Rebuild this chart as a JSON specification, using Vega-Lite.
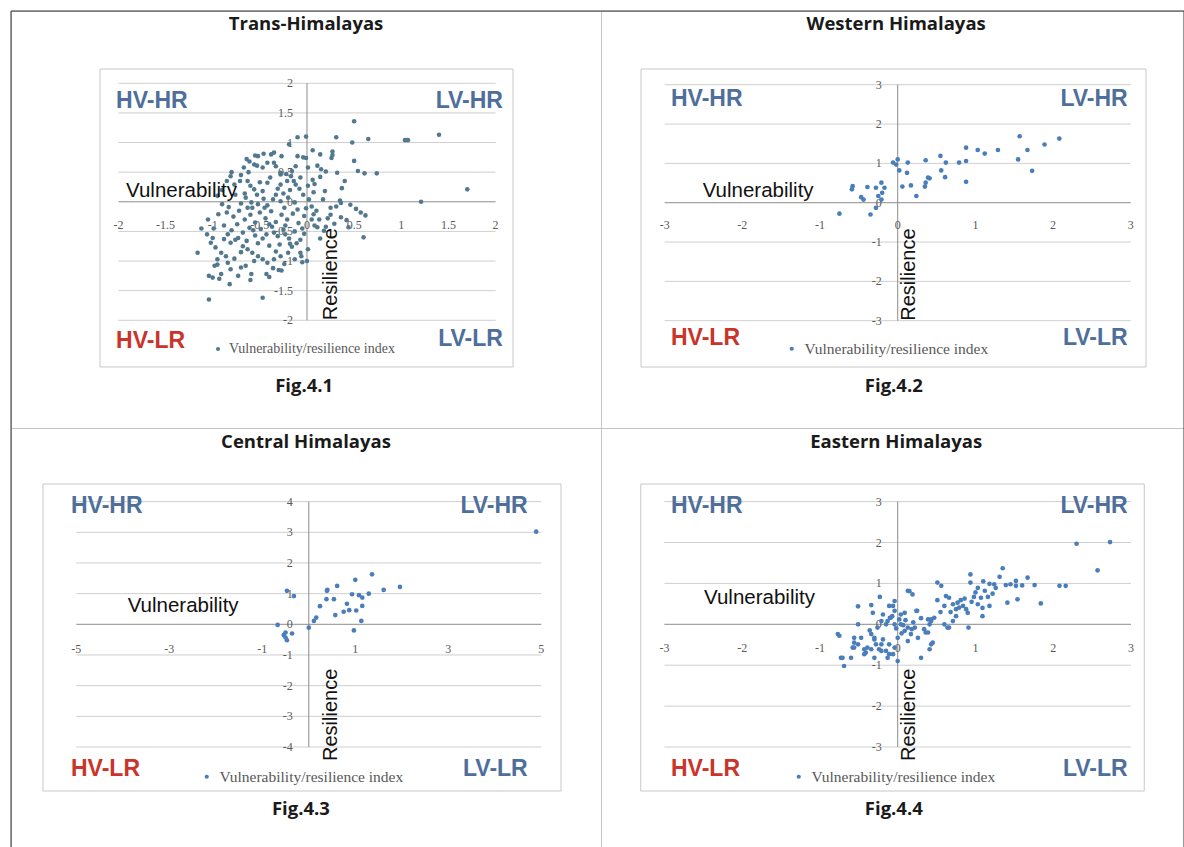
{
"$schema": "https://vega.github.io/schema/vega-lite/v6.json",
"padding": {"left": 10, "top": 10, "right": 0, "bottom": 0},
"background": "white",
"columns": 2,
"spacing": 0,
"bounds": "flush",
"resolve": {"scale": {"color": "independent"}, "legend": {"color": "independent"}},
"config": {
  "view": {"stroke": "#c4c4c4", "strokeWidth": 1},
  "text": {"font": "Liberation Sans"}
},
"concat": [
{
  "width": 590, "height": 417,
  "layer": [
    {"data": {"values": [{}]}, "mark": {"type": "rule", "color": "#333333"},
     "encoding": {"y": {"datum": 3.220, "scale": {"domain": [-3.818, 3.220], "nice": false, "zero": false}, "axis": null},
                  "x": {"datum": -3.139, "scale": {"domain": [-3.139, 3.118], "nice": false, "zero": false}, "axis": null}, "x2": {"datum": 3.118}}},
    {"data": {"values": [{}]}, "mark": {"type": "rule", "color": "#333333"},
     "encoding": {"x": {"datum": -3.139, "scale": {"domain": [-3.139, 3.118], "nice": false, "zero": false}, "axis": null},
                  "y": {"datum": -3.818, "scale": {"domain": [-3.818, 3.220], "nice": false, "zero": false}, "axis": null}, "y2": {"datum": 3.220}}},
    {"data": {"values": [{}]}, "mark": {"type": "rect", "fillOpacity": 0, "stroke": "#c8c8c8", "strokeWidth": 1},
     "encoding": {"x": {"datum": -2.195, "scale": {"domain": [-3.139, 3.118], "nice": false, "zero": false}, "axis": null}, "x2": {"datum": 2.185},
                  "y": {"datum": 2.241, "scale": {"domain": [-3.818, 3.220], "nice": false, "zero": false}, "axis": null}, "y2": {"datum": -2.788}}},
    {"data": {"values": [{"g": -2}, {"g": -1.5}, {"g": -1}, {"g": -0.5}, {"g": 0.5}, {"g": 1}, {"g": 1.5}, {"g": 2}]},
     "mark": {"type": "rule", "color": "#cfcfcf"},
     "encoding": {"y": {"field": "g", "type": "quantitative", "scale": {"domain": [-3.818, 3.220], "nice": false, "zero": false}, "axis": null},
                  "x": {"datum": -2, "scale": {"domain": [-3.139, 3.118], "nice": false, "zero": false}, "axis": null}, "x2": {"datum": 2}}},
    {"data": {"values": [{}]}, "mark": {"type": "rule", "color": "#8c8c8c"},
     "encoding": {"y": {"datum": 0, "scale": {"domain": [-3.818, 3.220], "nice": false, "zero": false}, "axis": null},
                  "x": {"datum": -2, "scale": {"domain": [-3.139, 3.118], "nice": false, "zero": false}, "axis": null}, "x2": {"datum": 2}}},
    {"data": {"values": [{}]}, "mark": {"type": "rule", "color": "#8c8c8c"},
     "encoding": {"x": {"datum": 0, "scale": {"domain": [-3.139, 3.118], "nice": false, "zero": false}, "axis": null},
                  "y": {"datum": -2, "scale": {"domain": [-3.818, 3.220], "nice": false, "zero": false}, "axis": null}, "y2": {"datum": 2}}},
    {"data": {"values": [{"v": -2}, {"v": -1.5}, {"v": -1}, {"v": -0.5}, {"v": 0}, {"v": 0.5}, {"v": 1}, {"v": 1.5}, {"v": 2}]},
     "mark": {"type": "text", "font": "Liberation Serif", "fontSize": 12, "color": "#595959", "align": "center", "baseline": "middle", "dy": 23.5},
     "encoding": {"x": {"field": "v", "type": "quantitative", "scale": {"domain": [-3.139, 3.118], "nice": false, "zero": false}, "axis": null},
                  "y": {"datum": 0, "scale": {"domain": [-3.818, 3.220], "nice": false, "zero": false}, "axis": null},
                  "text": {"field": "v", "type": "nominal"}}},
    {"data": {"values": [{"v": -2}, {"v": -1.5}, {"v": -1}, {"v": -0.5}, {"v": 0}, {"v": 0.5}, {"v": 1}, {"v": 1.5}, {"v": 2}]},
     "mark": {"type": "text", "font": "Liberation Serif", "fontSize": 12, "color": "#595959", "align": "right", "baseline": "middle", "dx": -14},
     "encoding": {"y": {"field": "v", "type": "quantitative", "scale": {"domain": [-3.818, 3.220], "nice": false, "zero": false}, "axis": null},
                  "x": {"datum": 0, "scale": {"domain": [-3.139, 3.118], "nice": false, "zero": false}, "axis": null},
                  "text": {"field": "v", "type": "nominal"}}},
    {"data": {"values": [
      {"x":0.50,"y":1.36},{"x":-0.01,"y":1.10},{"x":0.31,"y":1.09},{"x":0.48,"y":1.00},{"x":0.65,"y":1.06},{"x":1.04,"y":1.04},{"x":1.07,"y":1.04},{"x":1.40,"y":1.13},{"x":1.70,"y":0.21},{"x":1.21,"y":0.00},
      {"x":0.06,"y":0.87},{"x":0.14,"y":0.80},{"x":0.27,"y":0.85},{"x":0.27,"y":0.79},{"x":0.26,"y":0.74},{"x":0.50,"y":0.69},{"x":-0.04,"y":0.75},{"x":0.11,"y":0.61},{"x":0.15,"y":0.55},{"x":0.20,"y":0.51},
      {"x":0.32,"y":0.49},{"x":0.54,"y":0.52},{"x":0.61,"y":0.48},{"x":0.74,"y":0.48},{"x":0.14,"y":0.42},{"x":0.06,"y":0.37},{"x":0.08,"y":0.30},{"x":0.07,"y":0.16},{"x":0.40,"y":0.35},{"x":0.37,"y":0.23},
      {"x":0.19,"y":0.18},{"x":0.17,"y":0.04},{"x":0.35,"y":0.02},{"x":0.36,"y":-0.02},{"x":0.57,"y":-0.18},{"x":0.62,"y":-0.23},{"x":0.60,"y":-0.60},{"x":0.44,"y":-0.43},{"x":0.18,"y":-0.49},{"x":0.14,"y":-0.62},
      {"x":0.10,"y":-0.15},{"x":0.22,"y":-0.28},{"x":0.29,"y":-0.37},{"x":0.36,"y":-0.26},{"x":0.42,"y":-0.31},{"x":-0.03,"y":-0.54},{"x":-0.07,"y":-0.86},{"x":0.00,"y":-1.00},{"x":0.25,"y":-0.10},{"x":0.31,"y":-0.08},
      {"x":0.05,"y":-0.08},{"x":0.13,"y":-0.30},{"x":0.46,"y":-0.05},{"x":0.52,"y":-0.12},{"x":-0.19,"y":0.97},{"x":-0.10,"y":1.09},{"x":-0.52,"y":0.77},{"x":-0.38,"y":0.80},{"x":-0.61,"y":0.68},{"x":-0.56,"y":0.63},
      {"x":-0.47,"y":0.58},{"x":-0.35,"y":0.66},{"x":-0.28,"y":0.49},{"x":-0.22,"y":0.47},{"x":-0.17,"y":0.43},{"x":-0.10,"y":0.77},{"x":-0.12,"y":0.60},{"x":-0.01,"y":0.74},{"x":0.01,"y":0.58},{"x":-0.28,"y":0.29},
      {"x":-0.12,"y":0.29},{"x":0.01,"y":0.27},{"x":-0.81,"y":0.43},{"x":-0.77,"y":0.29},{"x":-0.63,"y":0.35},{"x":-0.56,"y":0.21},{"x":-0.47,"y":0.18},{"x":-0.42,"y":0.32},{"x":-0.36,"y":0.04},{"x":-0.28,"y":0.01},
      {"x":-0.20,"y":0.07},{"x":-0.13,"y":-0.01},{"x":-0.04,"y":0.12},{"x":0.02,"y":0.04},{"x":-0.65,"y":0.07},{"x":-0.59,"y":-0.01},{"x":-0.52,"y":-0.04},{"x":-0.63,"y":-0.10},{"x":-0.45,"y":-0.10},{"x":-0.24,"y":-0.10},
      {"x":-0.10,"y":-0.13},{"x":-0.01,"y":-0.11},{"x":-0.64,"y":0.72},{"x":-0.55,"y":0.78},{"x":-0.46,"y":0.81},{"x":-0.35,"y":0.83},{"x":-0.27,"y":0.77},{"x":-0.42,"y":0.66},{"x":-0.53,"y":0.61},{"x":-0.67,"y":0.58},
      {"x":-0.80,"y":0.50},{"x":-0.85,"y":0.35},{"x":-0.71,"y":0.35},{"x":-0.60,"y":0.27},{"x":-0.50,"y":0.33},{"x":-0.39,"y":0.41},{"x":-0.28,"y":0.46},{"x":-0.21,"y":0.35},{"x":-0.14,"y":0.35},{"x":-0.07,"y":0.41},
      {"x":-0.90,"y":-0.04},{"x":-0.83,"y":-0.09},{"x":-0.94,"y":-0.21},{"x":-1.05,"y":-0.30},{"x":-1.12,"y":-0.45},{"x":-1.00,"y":-0.61},{"x":-1.02,"y":-0.69},{"x":-0.97,"y":-0.77},{"x":-0.91,"y":-0.86},{"x":-0.95,"y":-0.97},
      {"x":-1.16,"y":-0.86},{"x":-1.04,"y":-1.25},{"x":-1.00,"y":-1.28},{"x":-0.91,"y":-1.22},{"x":-0.93,"y":-1.30},{"x":-0.82,"y":-1.39},{"x":-0.73,"y":-1.25},{"x":-0.59,"y":-1.22},{"x":-1.04,"y":-1.65},{"x":-0.47,"y":-1.62},
      {"x":-0.43,"y":-1.22},{"x":-0.40,"y":-1.27},{"x":-0.98,"y":-1.08},{"x":-0.95,"y":-1.06},{"x":-0.84,"y":-1.03},{"x":-0.81,"y":-1.14},{"x":-0.70,"y":-1.11},{"x":-0.65,"y":-1.08},{"x":-0.88,"y":-0.63},{"x":-0.81,"y":-0.69},
      {"x":-0.73,"y":-0.61},{"x":-0.68,"y":-0.75},{"x":-0.63,"y":-0.80},{"x":-0.58,"y":-0.86},{"x":-0.52,"y":-0.92},{"x":-0.47,"y":-0.97},{"x":-0.42,"y":-1.03},{"x":-0.35,"y":-0.97},{"x":-0.28,"y":-0.92},{"x":-0.20,"y":-0.86},
      {"x":-0.13,"y":-0.97},{"x":-0.06,"y":-0.92},{"x":0.01,"y":-0.80},{"x":-0.85,"y":-0.18},{"x":-0.78,"y":-0.25},{"x":-0.72,"y":-0.15},{"x":-0.66,"y":-0.30},{"x":-0.60,"y":-0.22},{"x":-0.55,"y":-0.35},{"x":-0.50,"y":-0.18},
      {"x":-0.44,"y":-0.28},{"x":-0.38,"y":-0.16},{"x":-0.33,"y":-0.34},{"x":-0.27,"y":-0.22},{"x":-0.21,"y":-0.30},{"x":-0.15,"y":-0.20},{"x":-0.09,"y":-0.36},{"x":-0.03,"y":-0.24},{"x":-0.88,"y":-0.40},{"x":-0.80,"y":-0.48},
      {"x":-0.74,"y":-0.38},{"x":-0.68,"y":-0.52},{"x":-0.61,"y":-0.44},{"x":-0.55,"y":-0.57},{"x":-0.49,"y":-0.46},{"x":-0.43,"y":-0.55},{"x":-0.37,"y":-0.42},{"x":-0.31,"y":-0.58},{"x":-0.25,"y":-0.47},{"x":-0.19,"y":-0.62},
      {"x":-0.13,"y":-0.50},{"x":-0.07,"y":-0.64},{"x":-0.84,"y":-0.55},{"x":-0.76,"y":-0.64},{"x":-0.64,"y":-0.66},{"x":-0.52,"y":-0.70},{"x":-0.40,"y":-0.74},{"x":-0.29,"y":-0.72},{"x":-0.16,"y":-0.76},{"x":-0.47,"y":-0.62},
      {"x":-0.35,"y":-0.52},{"x":-0.58,"y":-0.10},{"x":-0.42,"y":-0.06},{"x":-0.33,"y":0.12},{"x":-0.46,"y":0.05},{"x":-0.70,"y":-0.03},{"x":-0.76,"y":0.12},{"x":-0.53,"y":0.12},{"x":-0.18,"y":0.20},{"x":-0.08,"y":0.22},
      {"x":-0.25,"y":0.14},{"x":-0.40,"y":-0.38},{"x":-0.23,"y":-0.40},{"x":-0.57,"y":-0.48},{"x":-0.70,"y":-0.85},{"x":-0.56,"y":-1.00},{"x":-0.33,"y":-0.84},{"x":-0.24,"y":-1.05},{"x":-0.86,"y":-0.92},{"x":-0.77,"y":-0.96},
      {"x":-0.11,"y":-0.70},{"x":-0.05,"y":-0.45},{"x":-0.62,"y":0.50},{"x":-0.70,"y":0.45},{"x":-0.90,"y":0.20},{"x":-0.95,"y":0.10},{"x":-0.66,"y":0.14},{"x":-0.31,"y":0.22},{"x":-0.16,"y":0.52},{"x":-0.33,"y":0.60},
      {"x":0.05,"y":-0.30},{"x":0.08,"y":-0.40},{"x":-0.99,"y":-0.45},{"x":-1.06,"y":-0.55},{"x":-0.36,"y":-1.12},{"x":-0.60,"y":-1.32},{"x":-0.30,"y":-1.15},{"x":0.07,"y":-0.21},{"x":0.25,"y":-0.22},{"x":0.11,"y":-0.43},
      {"x":0.20,"y":-0.42},{"x":-0.05,"y":-1.02},{"x":-0.18,"y":-0.71},{"x":-0.23,"y":-0.55},{"x":-0.27,"y":-1.16}
     ]},
     "mark": {"type": "circle", "size": 21, "opacity": 1},
     "encoding": {
       "x": {"field": "x", "type": "quantitative", "scale": {"domain": [-3.139, 3.118], "nice": false, "zero": false}, "axis": null},
       "y": {"field": "y", "type": "quantitative", "scale": {"domain": [-3.818, 3.220], "nice": false, "zero": false}, "axis": null},
       "color": {"datum": "Vulnerability/resilience index", "scale": {"range": ["#52788f"]},
                 "legend": {"orient": "none", "legendX": 200, "legendY": 331, "title": null, "padding": 0, "labelFont": "Liberation Serif", "labelFontSize": 14, "labelColor": "#595959", "labelLimit": 400, "symbolType": "circle", "symbolSize": 16, "labelOffset": 4}}
     }},
    {"data": {"values": [{}]}, "mark": {"type": "text", "text": "Trans-Himalayas", "font": "Open Sans", "fontWeight": "bold", "fontSize": 18.5, "color": "#1a1a1a", "align": "center", "baseline": "middle"},
     "encoding": {"x": {"datum": -0.01, "scale": {"domain": [-3.139, 3.118], "nice": false, "zero": false}, "axis": null}, "y": {"datum": 3.0, "scale": {"domain": [-3.818, 3.220], "nice": false, "zero": false}, "axis": null}}},
    {"data": {"values": [{}]}, "mark": {"type": "text", "text": "Fig.4.1", "font": "Open Sans", "fontWeight": "bold", "fontSize": 18.5, "color": "#1a1a1a", "align": "center", "baseline": "middle"},
     "encoding": {"x": {"datum": -0.03, "scale": {"domain": [-3.139, 3.118], "nice": false, "zero": false}, "axis": null}, "y": {"datum": -3.109, "scale": {"domain": [-3.818, 3.220], "nice": false, "zero": false}, "axis": null}}},
    {"data": {"values": [{}]}, "mark": {"type": "text", "text": "HV-HR", "fontWeight": "bold", "fontSize": 23, "color": "#4e6f9b", "align": "left", "baseline": "middle"},
     "encoding": {"x": {"datum": -2.025, "scale": {"domain": [-3.139, 3.118], "nice": false, "zero": false}, "axis": null}, "y": {"datum": 1.70, "scale": {"domain": [-3.818, 3.220], "nice": false, "zero": false}, "axis": null}}},
    {"data": {"values": [{}]}, "mark": {"type": "text", "text": "LV-HR", "fontWeight": "bold", "fontSize": 23, "color": "#4e6f9b", "align": "right", "baseline": "middle"},
     "encoding": {"x": {"datum": 2.078, "scale": {"domain": [-3.139, 3.118], "nice": false, "zero": false}, "axis": null}, "y": {"datum": 1.70, "scale": {"domain": [-3.818, 3.220], "nice": false, "zero": false}, "axis": null}}},
    {"data": {"values": [{}]}, "mark": {"type": "text", "text": "HV-LR", "fontWeight": "bold", "fontSize": 23, "color": "#c9352b", "align": "left", "baseline": "middle"},
     "encoding": {"x": {"datum": -2.025, "scale": {"domain": [-3.139, 3.118], "nice": false, "zero": false}, "axis": null}, "y": {"datum": -2.349, "scale": {"domain": [-3.818, 3.220], "nice": false, "zero": false}, "axis": null}}},
    {"data": {"values": [{}]}, "mark": {"type": "text", "text": "LV-LR", "fontWeight": "bold", "fontSize": 23, "color": "#4e6f9b", "align": "right", "baseline": "middle"},
     "encoding": {"x": {"datum": 2.078, "scale": {"domain": [-3.139, 3.118], "nice": false, "zero": false}, "axis": null}, "y": {"datum": -2.32, "scale": {"domain": [-3.818, 3.220], "nice": false, "zero": false}, "axis": null}}},
    {"data": {"values": [{}]}, "mark": {"type": "text", "text": "Vulnerability", "fontSize": 20.5, "color": "#111111", "align": "left", "baseline": "alphabetic"},
     "encoding": {"x": {"datum": -1.919, "scale": {"domain": [-3.139, 3.118], "nice": false, "zero": false}, "axis": null}, "y": {"datum": 0.081, "scale": {"domain": [-3.818, 3.220], "nice": false, "zero": false}, "axis": null}}},
    {"data": {"values": [{}]}, "mark": {"type": "text", "text": "Resilience", "fontSize": 20, "color": "#111111", "align": "left", "baseline": "middle", "angle": 270},
     "encoding": {"x": {"datum": 0.25, "scale": {"domain": [-3.139, 3.118], "nice": false, "zero": false}, "axis": null}, "y": {"datum": -2.0, "scale": {"domain": [-3.818, 3.220], "nice": false, "zero": false}, "axis": null}}}
  ]
},
{
  "width": 583, "height": 417,
  "layer": [
    {"data": {"values": [{}]}, "mark": {"type": "rule", "color": "#333333"},
     "encoding": {"y": {"datum": 4.874, "scale": {"domain": [-5.728, 4.874], "nice": false, "zero": false}, "axis": null},
                  "x": {"datum": -3.819, "scale": {"domain": [-3.819, 3.685], "nice": false, "zero": false}, "axis": null}, "x2": {"datum": 3.685}}},
    {"data": {"values": [{}]}, "mark": {"type": "rule", "color": "#333333"},
     "encoding": {"x": {"datum": 3.685, "scale": {"domain": [-3.819, 3.685], "nice": false, "zero": false}, "axis": null},
                  "y": {"datum": -5.728, "scale": {"domain": [-5.728, 4.874], "nice": false, "zero": false}, "axis": null}, "y2": {"datum": 4.874}}},
    {"data": {"values": [{}]}, "mark": {"type": "rect", "fillOpacity": 0, "stroke": "#c8c8c8", "strokeWidth": 1},
     "encoding": {"x": {"datum": -3.304, "scale": {"domain": [-3.819, 3.685], "nice": false, "zero": false}, "axis": null}, "x2": {"datum": 3.196},
                  "y": {"datum": 3.40, "scale": {"domain": [-5.728, 4.874], "nice": false, "zero": false}, "axis": null}, "y2": {"datum": -4.178}}},
    {"data": {"values": [{"g": -3}, {"g": -2}, {"g": -1}, {"g": 1}, {"g": 2}, {"g": 3}]},
     "mark": {"type": "rule", "color": "#cfcfcf"},
     "encoding": {"y": {"field": "g", "type": "quantitative", "scale": {"domain": [-5.728, 4.874], "nice": false, "zero": false}, "axis": null},
                  "x": {"datum": -3, "scale": {"domain": [-3.819, 3.685], "nice": false, "zero": false}, "axis": null}, "x2": {"datum": 3}}},
    {"data": {"values": [{}]}, "mark": {"type": "rule", "color": "#8c8c8c"},
     "encoding": {"y": {"datum": 0, "scale": {"domain": [-5.728, 4.874], "nice": false, "zero": false}, "axis": null},
                  "x": {"datum": -3, "scale": {"domain": [-3.819, 3.685], "nice": false, "zero": false}, "axis": null}, "x2": {"datum": 3}}},
    {"data": {"values": [{}]}, "mark": {"type": "rule", "color": "#8c8c8c"},
     "encoding": {"x": {"datum": 0, "scale": {"domain": [-3.819, 3.685], "nice": false, "zero": false}, "axis": null},
                  "y": {"datum": -3, "scale": {"domain": [-5.728, 4.874], "nice": false, "zero": false}, "axis": null}, "y2": {"datum": 3}}},
    {"data": {"values": [{"v": -3}, {"v": -2}, {"v": -1}, {"v": 0}, {"v": 1}, {"v": 2}, {"v": 3}]},
     "mark": {"type": "text", "font": "Liberation Serif", "fontSize": 12, "color": "#595959", "align": "center", "baseline": "middle", "dy": 22.5},
     "encoding": {"x": {"field": "v", "type": "quantitative", "scale": {"domain": [-3.819, 3.685], "nice": false, "zero": false}, "axis": null},
                  "y": {"datum": 0, "scale": {"domain": [-5.728, 4.874], "nice": false, "zero": false}, "axis": null},
                  "text": {"field": "v", "type": "nominal"}}},
    {"data": {"values": [{"v": -3}, {"v": -2}, {"v": -1}, {"v": 0}, {"v": 1}, {"v": 2}, {"v": 3}]},
     "mark": {"type": "text", "font": "Liberation Serif", "fontSize": 12, "color": "#595959", "align": "right", "baseline": "middle", "dx": -16},
     "encoding": {"y": {"field": "v", "type": "quantitative", "scale": {"domain": [-5.728, 4.874], "nice": false, "zero": false}, "axis": null},
                  "x": {"datum": 0, "scale": {"domain": [-3.819, 3.685], "nice": false, "zero": false}, "axis": null},
                  "text": {"field": "v", "type": "nominal"}}},
    {"data": {"values": [
      {"x":1.57,"y":1.69},{"x":2.08,"y":1.63},{"x":1.89,"y":1.48},{"x":1.67,"y":1.34},{"x":1.55,"y":1.10},{"x":1.73,"y":0.81},{"x":0.88,"y":1.40},{"x":1.03,"y":1.34},{"x":1.12,"y":1.25},{"x":1.29,"y":1.34},
      {"x":0.88,"y":1.06},{"x":0.79,"y":1.02},{"x":0.88,"y":0.53},{"x":0.55,"y":1.19},{"x":0.62,"y":1.02},{"x":0.56,"y":0.82},{"x":0.61,"y":0.65},{"x":0.36,"y":1.08},{"x":0.39,"y":0.64},{"x":0.36,"y":0.51},
      {"x":0.35,"y":0.41},{"x":0.13,"y":1.02},{"x":0.12,"y":0.76},{"x":0.00,"y":1.10},{"x":-0.02,"y":0.97},{"x":0.02,"y":0.82},{"x":0.06,"y":0.41},{"x":0.17,"y":0.44},{"x":0.24,"y":0.17},{"x":-0.21,"y":0.51},
      {"x":-0.17,"y":0.38},{"x":-0.28,"y":0.38},{"x":-0.39,"y":0.40},{"x":-0.58,"y":0.42},{"x":-0.59,"y":0.34},{"x":-0.47,"y":0.14},{"x":-0.44,"y":0.08},{"x":-0.21,"y":0.08},{"x":-0.25,"y":0.17},{"x":-0.28,"y":-0.13},
      {"x":-0.35,"y":-0.30},{"x":-0.75,"y":-0.28},{"x":-0.20,"y":0.25},{"x":-0.06,"y":1.02},{"x":0.41,"y":0.62}
     ]},
     "mark": {"type": "circle", "size": 22, "opacity": 1},
     "encoding": {
       "x": {"field": "x", "type": "quantitative", "scale": {"domain": [-3.819, 3.685], "nice": false, "zero": false}, "axis": null},
       "y": {"field": "y", "type": "quantitative", "scale": {"domain": [-5.728, 4.874], "nice": false, "zero": false}, "axis": null},
       "color": {"datum": "Vulnerability/resilience index", "scale": {"range": ["#4a7ebb"]},
                 "legend": {"orient": "none", "legendX": 183, "legendY": 330, "title": null, "padding": 0, "labelFont": "Liberation Serif", "labelFontSize": 15.5, "labelColor": "#595959", "labelLimit": 400, "symbolType": "circle", "symbolSize": 18, "labelOffset": 5}}
     }},
    {"data": {"values": [{}]}, "mark": {"type": "text", "text": "Western Himalayas", "font": "Open Sans", "fontWeight": "bold", "fontSize": 18.5, "color": "#1a1a1a", "align": "center", "baseline": "middle"},
     "encoding": {"x": {"datum": -0.02, "scale": {"domain": [-3.819, 3.685], "nice": false, "zero": false}, "axis": null}, "y": {"datum": 4.544, "scale": {"domain": [-5.728, 4.874], "nice": false, "zero": false}, "axis": null}}},
    {"data": {"values": [{}]}, "mark": {"type": "text", "text": "Fig.4.2", "font": "Open Sans", "fontWeight": "bold", "fontSize": 18.5, "color": "#1a1a1a", "align": "center", "baseline": "middle"},
     "encoding": {"x": {"datum": -0.05, "scale": {"domain": [-3.819, 3.685], "nice": false, "zero": false}, "axis": null}, "y": {"datum": -4.661, "scale": {"domain": [-5.728, 4.874], "nice": false, "zero": false}, "axis": null}}},
    {"data": {"values": [{}]}, "mark": {"type": "text", "text": "HV-HR", "fontWeight": "bold", "fontSize": 23, "color": "#4e6f9b", "align": "left", "baseline": "middle"},
     "encoding": {"x": {"datum": -2.918, "scale": {"domain": [-3.819, 3.685], "nice": false, "zero": false}, "axis": null}, "y": {"datum": 2.649, "scale": {"domain": [-5.728, 4.874], "nice": false, "zero": false}, "axis": null}}},
    {"data": {"values": [{}]}, "mark": {"type": "text", "text": "LV-HR", "fontWeight": "bold", "fontSize": 23, "color": "#4e6f9b", "align": "right", "baseline": "middle"},
     "encoding": {"x": {"datum": 2.96, "scale": {"domain": [-3.819, 3.685], "nice": false, "zero": false}, "axis": null}, "y": {"datum": 2.649, "scale": {"domain": [-5.728, 4.874], "nice": false, "zero": false}, "axis": null}}},
    {"data": {"values": [{}]}, "mark": {"type": "text", "text": "HV-LR", "fontWeight": "bold", "fontSize": 23, "color": "#c9352b", "align": "left", "baseline": "middle"},
     "encoding": {"x": {"datum": -2.918, "scale": {"domain": [-3.819, 3.685], "nice": false, "zero": false}, "axis": null}, "y": {"datum": -3.44, "scale": {"domain": [-5.728, 4.874], "nice": false, "zero": false}, "axis": null}}},
    {"data": {"values": [{}]}, "mark": {"type": "text", "text": "LV-LR", "fontWeight": "bold", "fontSize": 23, "color": "#4e6f9b", "align": "right", "baseline": "middle"},
     "encoding": {"x": {"datum": 2.96, "scale": {"domain": [-3.819, 3.685], "nice": false, "zero": false}, "axis": null}, "y": {"datum": -3.44, "scale": {"domain": [-5.728, 4.874], "nice": false, "zero": false}, "axis": null}}},
    {"data": {"values": [{}]}, "mark": {"type": "text", "text": "Vulnerability", "fontSize": 20.5, "color": "#111111", "align": "left", "baseline": "alphabetic"},
     "encoding": {"x": {"datum": -2.51, "scale": {"domain": [-3.819, 3.685], "nice": false, "zero": false}, "axis": null}, "y": {"datum": 0.145, "scale": {"domain": [-5.728, 4.874], "nice": false, "zero": false}, "axis": null}}},
    {"data": {"values": [{}]}, "mark": {"type": "text", "text": "Resilience", "fontSize": 20, "color": "#111111", "align": "left", "baseline": "middle", "angle": 270},
     "encoding": {"x": {"datum": 0.139, "scale": {"domain": [-3.819, 3.685], "nice": false, "zero": false}, "axis": null}, "y": {"datum": -3.0, "scale": {"domain": [-5.728, 4.874], "nice": false, "zero": false}, "axis": null}}}
  ]
},
{
  "width": 590, "height": 421,
  "layer": [
    {"data": {"values": [{}]}, "mark": {"type": "rule", "color": "#333333"},
     "encoding": {"x": {"datum": -6.404, "scale": {"domain": [-6.404, 6.284], "nice": false, "zero": false}, "axis": null},
                  "y": {"datum": -7.326, "scale": {"domain": [-7.326, 6.400], "nice": false, "zero": false}, "axis": null}, "y2": {"datum": 6.400}}},
    {"data": {"values": [{}]}, "mark": {"type": "rect", "fillOpacity": 0, "stroke": "#c8c8c8", "strokeWidth": 1},
     "encoding": {"x": {"datum": -5.716, "scale": {"domain": [-6.404, 6.284], "nice": false, "zero": false}, "axis": null}, "x2": {"datum": 5.424},
                  "y": {"datum": 4.575, "scale": {"domain": [-7.326, 6.400], "nice": false, "zero": false}, "axis": null}, "y2": {"datum": -5.435}}},
    {"data": {"values": [{"g": -4}, {"g": -3}, {"g": -2}, {"g": -1}, {"g": 1}, {"g": 2}, {"g": 3}, {"g": 4}]},
     "mark": {"type": "rule", "color": "#cfcfcf"},
     "encoding": {"y": {"field": "g", "type": "quantitative", "scale": {"domain": [-7.326, 6.400], "nice": false, "zero": false}, "axis": null},
                  "x": {"datum": -5, "scale": {"domain": [-6.404, 6.284], "nice": false, "zero": false}, "axis": null}, "x2": {"datum": 5}}},
    {"data": {"values": [{}]}, "mark": {"type": "rule", "color": "#8c8c8c"},
     "encoding": {"y": {"datum": 0, "scale": {"domain": [-7.326, 6.400], "nice": false, "zero": false}, "axis": null},
                  "x": {"datum": -5, "scale": {"domain": [-6.404, 6.284], "nice": false, "zero": false}, "axis": null}, "x2": {"datum": 5}}},
    {"data": {"values": [{}]}, "mark": {"type": "rule", "color": "#8c8c8c"},
     "encoding": {"x": {"datum": 0, "scale": {"domain": [-6.404, 6.284], "nice": false, "zero": false}, "axis": null},
                  "y": {"datum": -4, "scale": {"domain": [-7.326, 6.400], "nice": false, "zero": false}, "axis": null}, "y2": {"datum": 4}}},
    {"data": {"values": [{"v": -5}, {"v": -3}, {"v": -1}, {"v": 1}, {"v": 3}, {"v": 5}]},
     "mark": {"type": "text", "font": "Liberation Serif", "fontSize": 12, "color": "#595959", "align": "center", "baseline": "middle", "dy": 25},
     "encoding": {"x": {"field": "v", "type": "quantitative", "scale": {"domain": [-6.404, 6.284], "nice": false, "zero": false}, "axis": null},
                  "y": {"datum": 0, "scale": {"domain": [-7.326, 6.400], "nice": false, "zero": false}, "axis": null},
                  "text": {"field": "v", "type": "nominal"}}},
    {"data": {"values": [{"v": -4}, {"v": -3}, {"v": -2}, {"v": -1}, {"v": 0}, {"v": 1}, {"v": 2}, {"v": 3}, {"v": 4}]},
     "mark": {"type": "text", "font": "Liberation Serif", "fontSize": 12, "color": "#595959", "align": "right", "baseline": "middle", "dx": -16},
     "encoding": {"y": {"field": "v", "type": "quantitative", "scale": {"domain": [-7.326, 6.400], "nice": false, "zero": false}, "axis": null},
                  "x": {"datum": 0, "scale": {"domain": [-6.404, 6.284], "nice": false, "zero": false}, "axis": null},
                  "text": {"field": "v", "type": "nominal"}}},
    {"data": {"values": [
      {"x":4.89,"y":3.02},{"x":1.36,"y":1.63},{"x":1.00,"y":1.45},{"x":1.96,"y":1.22},{"x":1.61,"y":1.12},{"x":1.29,"y":1.00},{"x":1.15,"y":0.87},{"x":0.93,"y":0.98},{"x":0.61,"y":1.25},{"x":0.39,"y":1.09},
      {"x":0.54,"y":0.82},{"x":0.38,"y":0.82},{"x":0.24,"y":0.59},{"x":0.82,"y":0.67},{"x":0.75,"y":0.41},{"x":0.57,"y":0.30},{"x":0.87,"y":0.46},{"x":1.02,"y":0.45},{"x":1.15,"y":0.60},{"x":1.13,"y":0.11},
      {"x":0.97,"y":-0.20},{"x":0.16,"y":0.22},{"x":0.11,"y":0.11},{"x":0.00,"y":-0.11},{"x":-0.32,"y":0.92},{"x":-0.47,"y":1.09},{"x":-0.67,"y":-0.02},{"x":-0.50,"y":-0.27},{"x":-0.36,"y":-0.30},{"x":-0.50,"y":-0.43},
      {"x":-0.47,"y":-0.52},{"x":-0.54,"y":-0.35},{"x":1.08,"y":0.95},{"x":0.40,"y":1.12}
     ]},
     "mark": {"type": "circle", "size": 22, "opacity": 1},
     "encoding": {
       "x": {"field": "x", "type": "quantitative", "scale": {"domain": [-6.404, 6.284], "nice": false, "zero": false}, "axis": null},
       "y": {"field": "y", "type": "quantitative", "scale": {"domain": [-7.326, 6.400], "nice": false, "zero": false}, "axis": null},
       "color": {"datum": "Vulnerability/resilience index", "scale": {"range": ["#4a7ebb"]},
                 "legend": {"orient": "none", "legendX": 188, "legendY": 341, "title": null, "padding": 0, "labelFont": "Liberation Serif", "labelFontSize": 15.5, "labelColor": "#595959", "labelLimit": 400, "symbolType": "circle", "symbolSize": 18, "labelOffset": 5}}
     }},
    {"data": {"values": [{}]}, "mark": {"type": "text", "text": "Central Himalayas", "font": "Open Sans", "fontWeight": "bold", "fontSize": 18.5, "color": "#1a1a1a", "align": "center", "baseline": "middle"},
     "encoding": {"x": {"datum": -0.06, "scale": {"domain": [-6.404, 6.284], "nice": false, "zero": false}, "axis": null}, "y": {"datum": 5.944, "scale": {"domain": [-7.326, 6.400], "nice": false, "zero": false}, "axis": null}}},
    {"data": {"values": [{}]}, "mark": {"type": "text", "text": "Fig.4.3", "font": "Open Sans", "fontWeight": "bold", "fontSize": 18.5, "color": "#1a1a1a", "align": "center", "baseline": "middle"},
     "encoding": {"x": {"datum": -0.17, "scale": {"domain": [-6.404, 6.284], "nice": false, "zero": false}, "axis": null}, "y": {"datum": -6.022, "scale": {"domain": [-7.326, 6.400], "nice": false, "zero": false}, "axis": null}}},
    {"data": {"values": [{}]}, "mark": {"type": "text", "text": "HV-HR", "fontWeight": "bold", "fontSize": 23, "color": "#4e6f9b", "align": "left", "baseline": "middle"},
     "encoding": {"x": {"datum": -5.114, "scale": {"domain": [-6.404, 6.284], "nice": false, "zero": false}, "axis": null}, "y": {"datum": 3.857, "scale": {"domain": [-7.326, 6.400], "nice": false, "zero": false}, "axis": null}}},
    {"data": {"values": [{}]}, "mark": {"type": "text", "text": "LV-HR", "fontWeight": "bold", "fontSize": 23, "color": "#4e6f9b", "align": "right", "baseline": "middle"},
     "encoding": {"x": {"datum": 4.708, "scale": {"domain": [-6.404, 6.284], "nice": false, "zero": false}, "axis": null}, "y": {"datum": 3.857, "scale": {"domain": [-7.326, 6.400], "nice": false, "zero": false}, "axis": null}}},
    {"data": {"values": [{}]}, "mark": {"type": "text", "text": "HV-LR", "fontWeight": "bold", "fontSize": 23, "color": "#c9352b", "align": "left", "baseline": "middle"},
     "encoding": {"x": {"datum": -5.114, "scale": {"domain": [-6.404, 6.284], "nice": false, "zero": false}, "axis": null}, "y": {"datum": -4.718, "scale": {"domain": [-7.326, 6.400], "nice": false, "zero": false}, "axis": null}}},
    {"data": {"values": [{}]}, "mark": {"type": "text", "text": "LV-LR", "fontWeight": "bold", "fontSize": 23, "color": "#4e6f9b", "align": "right", "baseline": "middle"},
     "encoding": {"x": {"datum": 4.708, "scale": {"domain": [-6.404, 6.284], "nice": false, "zero": false}, "axis": null}, "y": {"datum": -4.718, "scale": {"domain": [-7.326, 6.400], "nice": false, "zero": false}, "axis": null}}},
    {"data": {"values": [{}]}, "mark": {"type": "text", "text": "Vulnerability", "fontSize": 20.5, "color": "#111111", "align": "left", "baseline": "alphabetic"},
     "encoding": {"x": {"datum": -3.895, "scale": {"domain": [-6.404, 6.284], "nice": false, "zero": false}, "axis": null}, "y": {"datum": 0.40, "scale": {"domain": [-7.326, 6.400], "nice": false, "zero": false}, "axis": null}}},
    {"data": {"values": [{}]}, "mark": {"type": "text", "text": "Resilience", "fontSize": 20, "color": "#111111", "align": "left", "baseline": "middle", "angle": 270},
     "encoding": {"x": {"datum": 0.477, "scale": {"domain": [-6.404, 6.284], "nice": false, "zero": false}, "axis": null}, "y": {"datum": -4.457, "scale": {"domain": [-7.326, 6.400], "nice": false, "zero": false}, "axis": null}}}
  ]
},
{
  "width": 583, "height": 421,
  "layer": [
    {"data": {"values": [{}]}, "mark": {"type": "rule", "color": "#333333"},
     "encoding": {"x": {"datum": 3.681, "scale": {"domain": [-3.815, 3.681], "nice": false, "zero": false}, "axis": null},
                  "y": {"datum": -5.494, "scale": {"domain": [-5.494, 4.80], "nice": false, "zero": false}, "axis": null}, "y2": {"datum": 4.80}}},
    {"data": {"values": [{}]}, "mark": {"type": "rect", "fillOpacity": 0, "stroke": "#c8c8c8", "strokeWidth": 1},
     "encoding": {"x": {"datum": -3.304, "scale": {"domain": [-3.815, 3.681], "nice": false, "zero": false}, "axis": null}, "x2": {"datum": 3.17},
                  "y": {"datum": 3.43, "scale": {"domain": [-5.494, 4.80], "nice": false, "zero": false}, "axis": null}, "y2": {"datum": -4.076}}},
    {"data": {"values": [{"g": -3}, {"g": -2}, {"g": -1}, {"g": 1}, {"g": 2}, {"g": 3}]},
     "mark": {"type": "rule", "color": "#cfcfcf"},
     "encoding": {"y": {"field": "g", "type": "quantitative", "scale": {"domain": [-5.494, 4.80], "nice": false, "zero": false}, "axis": null},
                  "x": {"datum": -3, "scale": {"domain": [-3.815, 3.681], "nice": false, "zero": false}, "axis": null}, "x2": {"datum": 3}}},
    {"data": {"values": [{}]}, "mark": {"type": "rule", "color": "#8c8c8c"},
     "encoding": {"y": {"datum": 0, "scale": {"domain": [-5.494, 4.80], "nice": false, "zero": false}, "axis": null},
                  "x": {"datum": -3, "scale": {"domain": [-3.815, 3.681], "nice": false, "zero": false}, "axis": null}, "x2": {"datum": 3}}},
    {"data": {"values": [{}]}, "mark": {"type": "rule", "color": "#8c8c8c"},
     "encoding": {"x": {"datum": 0, "scale": {"domain": [-3.815, 3.681], "nice": false, "zero": false}, "axis": null},
                  "y": {"datum": -3, "scale": {"domain": [-5.494, 4.80], "nice": false, "zero": false}, "axis": null}, "y2": {"datum": 3}}},
    {"data": {"values": [{"v": -3}, {"v": -2}, {"v": -1}, {"v": 0}, {"v": 1}, {"v": 2}, {"v": 3}]},
     "mark": {"type": "text", "font": "Liberation Serif", "fontSize": 12, "color": "#595959", "align": "center", "baseline": "middle", "dy": 23.4},
     "encoding": {"x": {"field": "v", "type": "quantitative", "scale": {"domain": [-3.815, 3.681], "nice": false, "zero": false}, "axis": null},
                  "y": {"datum": 0, "scale": {"domain": [-5.494, 4.80], "nice": false, "zero": false}, "axis": null},
                  "text": {"field": "v", "type": "nominal"}}},
    {"data": {"values": [{"v": -3}, {"v": -2}, {"v": -1}, {"v": 0}, {"v": 1}, {"v": 2}, {"v": 3}]},
     "mark": {"type": "text", "font": "Liberation Serif", "fontSize": 12, "color": "#595959", "align": "right", "baseline": "middle", "dx": -16},
     "encoding": {"y": {"field": "v", "type": "quantitative", "scale": {"domain": [-5.494, 4.80], "nice": false, "zero": false}, "axis": null},
                  "x": {"datum": 0, "scale": {"domain": [-3.815, 3.681], "nice": false, "zero": false}, "axis": null},
                  "text": {"field": "v", "type": "nominal"}}},
    {"data": {"values": [
      {"x":0.935,"y":1.22},{"x":1.35,"y":1.37},{"x":1.31,"y":1.16},{"x":1.18,"y":0.99},{"x":1.26,"y":0.89},{"x":1.39,"y":0.96},{"x":1.52,"y":1.06},{"x":1.52,"y":0.94},{"x":1.67,"y":1.14},{"x":1.76,"y":0.96},
      {"x":1.54,"y":0.61},{"x":1.41,"y":0.53},{"x":1.84,"y":0.51},{"x":2.08,"y":0.94},{"x":2.16,"y":0.94},{"x":0.935,"y":1.02},{"x":1.03,"y":0.89},{"x":0.98,"y":0.67},{"x":1.07,"y":0.65},{"x":1.16,"y":0.67},
      {"x":1.03,"y":0.49},{"x":1.09,"y":0.40},{"x":1.18,"y":0.45},{"x":1.09,"y":0.20},{"x":0.91,"y":-0.08},{"x":0.51,"y":1.02},{"x":0.56,"y":0.94},{"x":0.15,"y":0.81},{"x":0.19,"y":0.73},{"x":0.62,"y":0.69},
      {"x":0.66,"y":0.65},{"x":0.51,"y":0.59},{"x":0.71,"y":0.49},{"x":0.77,"y":0.53},{"x":0.81,"y":0.59},{"x":0.86,"y":0.63},{"x":0.84,"y":0.45},{"x":0.88,"y":0.37},{"x":0.79,"y":0.41},{"x":0.75,"y":0.37},
      {"x":0.90,"y":0.28},{"x":0.75,"y":0.20},{"x":0.71,"y":0.08},{"x":0.60,"y":0.00},{"x":0.66,"y":-0.08},{"x":0.43,"y":0.12},{"x":0.41,"y":0.00},{"x":0.39,"y":-0.20},{"x":0.45,"y":-0.45},{"x":0.41,"y":-0.61},
      {"x":0.30,"y":-0.82},{"x":0.24,"y":0.33},{"x":0.09,"y":0.28},{"x":-0.04,"y":0.57},{"x":-0.11,"y":0.45},{"x":2.30,"y":1.97},{"x":2.73,"y":2.01},{"x":2.57,"y":1.32},{"x":-0.23,"y":0.67},{"x":-0.34,"y":0.47},
      {"x":-0.32,"y":0.28},{"x":-0.51,"y":0.44},{"x":-0.06,"y":0.45},{"x":-0.10,"y":0.16},{"x":-0.19,"y":0.24},{"x":-0.15,"y":0.00},{"x":-0.21,"y":0.08},{"x":-0.77,"y":-0.24},{"x":-0.75,"y":-0.28},{"x":-0.56,"y":-0.45},
      {"x":-0.58,"y":-0.57},{"x":-0.51,"y":0.00},{"x":-0.36,"y":-0.15},{"x":-0.34,"y":-0.24},{"x":-0.26,"y":-0.08},{"x":-0.30,"y":-0.37},{"x":-0.28,"y":-0.49},{"x":-0.19,"y":-0.37},{"x":-0.15,"y":-0.65},{"x":-0.21,"y":-0.65},
      {"x":-0.13,"y":-0.82},{"x":-0.06,"y":-0.73},{"x":0.00,"y":-0.90},{"x":-0.43,"y":-0.61},{"x":-0.41,"y":-0.69},{"x":-0.71,"y":-0.82},{"x":-0.69,"y":-1.02},{"x":0.13,"y":0.82},{"x":0.25,"y":0.33},{"x":-0.04,"y":0.33},
      {"x":0.04,"y":0.24},{"x":-0.09,"y":0.16},{"x":-0.13,"y":0.08},{"x":-0.04,"y":0.00},{"x":0.04,"y":0.00},{"x":0.13,"y":-0.08},{"x":0.09,"y":-0.16},{"x":0.17,"y":-0.24},{"x":0.26,"y":-0.33},{"x":0.13,"y":-0.41},
      {"x":0.00,"y":-0.33},{"x":-0.04,"y":-0.57},{"x":-0.11,"y":-0.73},{"x":-0.30,"y":-0.82},{"x":-0.34,"y":-0.61},{"x":-0.39,"y":-0.57},{"x":-0.43,"y":-0.73},{"x":-0.47,"y":-0.33},{"x":-0.51,"y":-0.49},{"x":-0.56,"y":-0.57},
      {"x":-0.60,"y":-0.82},{"x":-0.73,"y":-0.82},{"x":-0.56,"y":-0.33},{"x":-0.30,"y":-0.33},{"x":-0.21,"y":-0.49},{"x":-0.24,"y":-0.61},{"x":-0.11,"y":-0.49},{"x":0.36,"y":-0.20},{"x":0.43,"y":-0.49},{"x":0.34,"y":-0.12},
      {"x":0.43,"y":0.08},{"x":0.47,"y":0.16},{"x":0.39,"y":0.12},{"x":0.02,"y":0.12},{"x":-0.02,"y":-0.10},{"x":0.07,"y":-0.02},{"x":0.20,"y":0.05},{"x":0.18,"y":-0.12},{"x":0.10,"y":0.10},{"x":-0.07,"y":0.20},
      {"x":0.05,"y":-0.22},{"x":0.22,"y":-0.08},{"x":0.30,"y":0.15},{"x":0.55,"y":0.30},{"x":0.60,"y":0.45},{"x":0.68,"y":0.30},{"x":1.00,"y":0.78},{"x":1.12,"y":0.82},{"x":1.22,"y":0.75},{"x":0.95,"y":0.55},
      {"x":1.45,"y":0.98},{"x":1.60,"y":0.95},{"x":1.10,"y":1.05},{"x":1.24,"y":0.98},{"x":0.64,"y":-0.08}
     ]},
     "mark": {"type": "circle", "size": 22, "opacity": 1},
     "encoding": {
       "x": {"field": "x", "type": "quantitative", "scale": {"domain": [-3.815, 3.681], "nice": false, "zero": false}, "axis": null},
       "y": {"field": "y", "type": "quantitative", "scale": {"domain": [-5.494, 4.80], "nice": false, "zero": false}, "axis": null},
       "color": {"datum": "Vulnerability/resilience index", "scale": {"range": ["#4a7ebb"]},
                 "legend": {"orient": "none", "legendX": 190, "legendY": 341, "title": null, "padding": 0, "labelFont": "Liberation Serif", "labelFontSize": 15.5, "labelColor": "#595959", "labelLimit": 400, "symbolType": "circle", "symbolSize": 18, "labelOffset": 5}}
     }},
    {"data": {"values": [{}]}, "mark": {"type": "text", "text": "Eastern Himalayas", "font": "Open Sans", "fontWeight": "bold", "fontSize": 18.5, "color": "#1a1a1a", "align": "center", "baseline": "middle"},
     "encoding": {"x": {"datum": -0.02, "scale": {"domain": [-3.815, 3.681], "nice": false, "zero": false}, "axis": null}, "y": {"datum": 4.457, "scale": {"domain": [-5.494, 4.80], "nice": false, "zero": false}, "axis": null}}},
    {"data": {"values": [{}]}, "mark": {"type": "text", "text": "Fig.4.4", "font": "Open Sans", "fontWeight": "bold", "fontSize": 18.5, "color": "#1a1a1a", "align": "center", "baseline": "middle"},
     "encoding": {"x": {"datum": -0.05, "scale": {"domain": [-3.815, 3.681], "nice": false, "zero": false}, "axis": null}, "y": {"datum": -4.516, "scale": {"domain": [-5.494, 4.80], "nice": false, "zero": false}, "axis": null}}},
    {"data": {"values": [{}]}, "mark": {"type": "text", "text": "HV-HR", "fontWeight": "bold", "fontSize": 23, "color": "#4e6f9b", "align": "left", "baseline": "middle"},
     "encoding": {"x": {"datum": -2.915, "scale": {"domain": [-3.815, 3.681], "nice": false, "zero": false}, "axis": null}, "y": {"datum": 2.892, "scale": {"domain": [-5.494, 4.80], "nice": false, "zero": false}, "axis": null}}},
    {"data": {"values": [{}]}, "mark": {"type": "text", "text": "LV-HR", "fontWeight": "bold", "fontSize": 23, "color": "#4e6f9b", "align": "right", "baseline": "middle"},
     "encoding": {"x": {"datum": 2.957, "scale": {"domain": [-3.815, 3.681], "nice": false, "zero": false}, "axis": null}, "y": {"datum": 2.892, "scale": {"domain": [-5.494, 4.80], "nice": false, "zero": false}, "axis": null}}},
    {"data": {"values": [{}]}, "mark": {"type": "text", "text": "HV-LR", "fontWeight": "bold", "fontSize": 23, "color": "#c9352b", "align": "left", "baseline": "middle"},
     "encoding": {"x": {"datum": -2.915, "scale": {"domain": [-3.815, 3.681], "nice": false, "zero": false}, "axis": null}, "y": {"datum": -3.538, "scale": {"domain": [-5.494, 4.80], "nice": false, "zero": false}, "axis": null}}},
    {"data": {"values": [{}]}, "mark": {"type": "text", "text": "LV-LR", "fontWeight": "bold", "fontSize": 23, "color": "#4e6f9b", "align": "right", "baseline": "middle"},
     "encoding": {"x": {"datum": 2.957, "scale": {"domain": [-3.815, 3.681], "nice": false, "zero": false}, "axis": null}, "y": {"datum": -3.538, "scale": {"domain": [-5.494, 4.80], "nice": false, "zero": false}, "axis": null}}},
    {"data": {"values": [{}]}, "mark": {"type": "text", "text": "Vulnerability", "fontSize": 20.5, "color": "#111111", "align": "left", "baseline": "alphabetic"},
     "encoding": {"x": {"datum": -2.49, "scale": {"domain": [-3.815, 3.681], "nice": false, "zero": false}, "axis": null}, "y": {"datum": 0.496, "scale": {"domain": [-5.494, 4.80], "nice": false, "zero": false}, "axis": null}}},
    {"data": {"values": [{}]}, "mark": {"type": "text", "text": "Resilience", "fontSize": 20, "color": "#111111", "align": "left", "baseline": "middle", "angle": 270},
     "encoding": {"x": {"datum": 0.139, "scale": {"domain": [-3.815, 3.681], "nice": false, "zero": false}, "axis": null}, "y": {"datum": -3.342, "scale": {"domain": [-5.494, 4.80], "nice": false, "zero": false}, "axis": null}}}
  ]
}
]
}
